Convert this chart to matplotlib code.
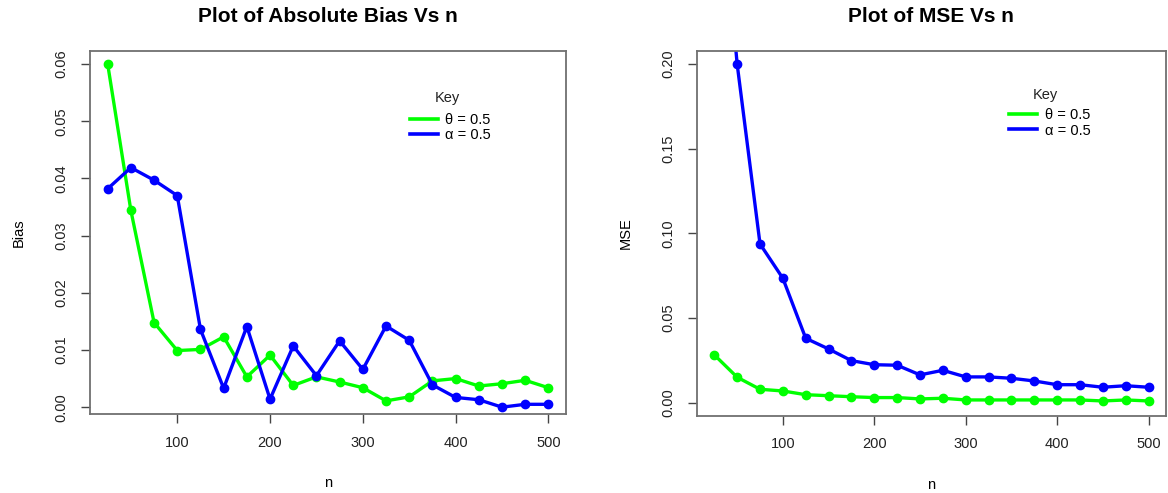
import matplotlib
matplotlib.use("Agg")
import matplotlib.pyplot as plt

plt.rcParams['font.family'] = ['Liberation Sans', 'DejaVu Sans']

n = [25, 50, 75, 100, 125, 150, 175, 200, 225, 250, 275, 300,
     325, 350, 375, 400, 425, 450, 475, 500]

bias_theta = [0.0600, 0.0344, 0.0148, 0.0099, 0.0101, 0.0123, 0.0053, 0.0091,
              0.0038, 0.0053, 0.0044, 0.0034, 0.0011, 0.0018, 0.0046, 0.0050,
              0.0037, 0.0041, 0.0047, 0.0034]
bias_alpha = [0.0382, 0.0419, 0.0397, 0.0370, 0.0136, 0.0033, 0.0141, 0.0014,
              0.0107, 0.0055, 0.0116, 0.0066, 0.0142, 0.0117, 0.0039, 0.0017,
              0.0013, 0.0000, 0.0005, 0.0005]

mse_theta = [0.0282, 0.0150, 0.0079, 0.0069, 0.0047, 0.0041, 0.0035, 0.0030,
             0.0030, 0.0022, 0.0026, 0.0016, 0.0016, 0.0016, 0.0016, 0.0016,
             0.0016, 0.0010, 0.0016, 0.0010]
mse_alpha = [0.3500, 0.1998, 0.0937, 0.0734, 0.0380, 0.0317, 0.0248, 0.0224,
             0.0221, 0.0164, 0.0191, 0.0152, 0.0152, 0.0144, 0.0128, 0.0106,
             0.0106, 0.0091, 0.0100, 0.0091]

labels = ['θ = 0.5', 'α = 0.5']
colors = ['#00ff00', '#0000ff']

W, H = 1168, 493
fig = plt.figure(figsize=(W / 100, H / 100), dpi=100)
ax1 = fig.add_axes([0.0771, 0.1602, 0.4075, 0.7364])
ax2 = fig.add_axes([0.5967, 0.1568, 0.4015, 0.7404])

def style(ax, yticks, ylim, title, ylabel):
    ax.set_xlim(6, 519)
    ax.set_ylim(*ylim)
    ax.set_xticks([100, 200, 300, 400, 500])
    ax.set_yticks(yticks)
    ax.set_yticklabels([f"{v:.2f}" for v in yticks], rotation=90, va='center')
    ax.tick_params(axis='both', labelsize=10.5, length=6.5, color='#444444',
                   labelcolor='#222222', width=1)
    ax.tick_params(axis='x', pad=9)
    ax.tick_params(axis='y', pad=9)
    for s in ax.spines.values():
        s.set_color('#707070')
        s.set_linewidth(1.3)
    ax.set_title(title, fontsize=15, fontweight='bold', pad=21)
    ax.set_xlabel('n', fontsize=10.5, labelpad=19)
    ax.set_ylabel(ylabel, fontsize=10.5, labelpad=21)

for ax, ys in ((ax1, (bias_theta, bias_alpha)), (ax2, (mse_theta, mse_alpha))):
    for y, c, lab in zip(ys, colors, labels):
        ax.plot(n, y, color=c, lw=2.4, marker='o', markersize=6, label=lab,
                clip_on=True)

style(ax1, [0.00, 0.01, 0.02, 0.03, 0.04, 0.05, 0.06], (-0.0012, 0.0623),
      'Plot of Absolute Bias Vs n', 'Bias')
style(ax2, [0.00, 0.05, 0.10, 0.15, 0.20], (-0.0077, 0.2078),
      'Plot of MSE Vs n', 'MSE')

for ax, anchor, keypos in ((ax1, (0.672, 0.830), (447, 98)),
                           (ax2, (0.666, 0.842), (1045, 95))):
    h = [plt.Line2D([], [], color=c, lw=2.6) for c in colors]
    ax.legend(h, labels, frameon=False, loc='upper left',
              bbox_to_anchor=anchor, borderaxespad=0, borderpad=0,
              fontsize=10.5, handlelength=1.92, handletextpad=0.5,
              labelspacing=0.08)
    fig.text(keypos[0] / W, 1 - keypos[1] / H, 'Key', ha='center', va='center',
             fontsize=10.5, color='#222222')

fig.savefig('out.png', dpi=100)
